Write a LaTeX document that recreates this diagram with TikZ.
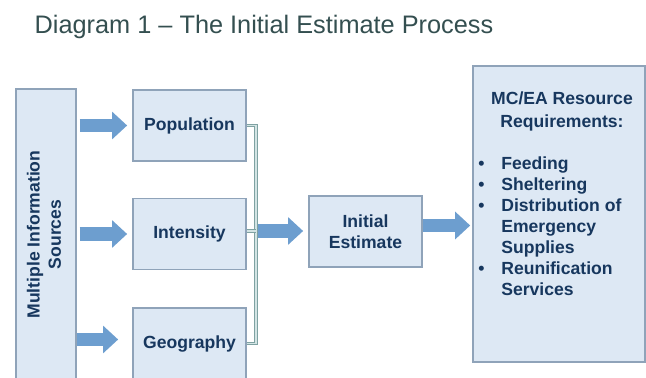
\documentclass[tikz,border=0pt]{standalone}
\usepackage{fontspec}
\setmainfont{Liberation Sans}
\usepackage{tikz}
\usetikzlibrary{positioning, arrows.meta, calc}
\definecolor{boxfill}{HTML}{DDE8F4}
\definecolor{boxline}{HTML}{8FA3B9}
\definecolor{boxtext}{HTML}{17375E}
\definecolor{arrowblue}{HTML}{6D9ECF}
\definecolor{titletext}{HTML}{344F50}
\definecolor{bracketline}{HTML}{7FA2A2}
\definecolor{bracketfill}{HTML}{D3E4E4}

\begin{document}
\begin{tikzpicture}[
			% GLOBAL CFG (one unit = one pixel, y goes down)
			x=0.025cm, y=-0.025cm,
			font=\bfseries\fontsize{12.5}{15}\selectfont,
			% Styles
			box/.style={% For the boxes
				rectangle,
				draw=boxline,
				fill=boxfill,
				line width=1.1pt,
				text=boxtext,
				align=center,
				minimum width=2.825cm,
				minimum height=1.775cm,
				inner sep=2pt,
			},
			title/.style={% For the heading line
				font=\fontsize{18}{22}\selectfont,
				text=titletext,
				anchor=base,
			},
			bigarrow/.style={% Fat blue arrows
				draw=arrowblue,
				line width=9.5pt,
				-{Triangle[length=10.7pt, width=19pt]},
			},
			bracket/.style={% Thin line joining the three factors
				draw=bracketline,
				line width=0.7pt,
				double=bracketfill,
				double distance=1pt,
			},
			]
			\clip (0,0) rectangle (646,377);
			
			% Heading
			\node[title] (head) at (264,33) {Diagram 1 -- The Initial Estimate Process};
			
			% Sources on the left
			\node[box, minimum width=1.5cm, minimum height=7.275cm] (sources) at (46,234.5)
				{\rotatebox{90}{\begin{tabular}{@{}c@{}}Multiple Information\\Sources\end{tabular}}};
			
			% The three factors
			\node[box] (pop) at (189.5,125.5) {Population};
			\node[box] (int) at (189.5,234) {Intensity};
			\node[box] (geo) at (189.5,343.5) {Geography};
			
			% The estimate
			\node[box] (init) at (365.5,231.5) {Initial\\Estimate};
			
			% Requirements box
			\node[box, minimum width=4.3cm, minimum height=7.4cm] (reqs) at (559,214) {};
			\node[text=boxtext, inner sep=0pt, anchor=north] (reqhead) at (562,89)
				{\begin{tabular}{@{}c@{}}MC/EA Resource\\[1.4pt]Requirements:\end{tabular}};
			\node[text=boxtext, inner sep=0pt, anchor=north west] (reqlist) at (478,154)
				{\begin{tabular}{@{}l@{\hspace{12pt}}l@{}}
					\textbullet & Feeding\\
					\textbullet & Sheltering\\
					\textbullet & Distribution of\\
					 & Emergency\\
					 & Supplies\\
					\textbullet & Reunification\\
					 & Services
				\end{tabular}};
			
			% Arrows from the sources
			\draw[bigarrow, shorten <=2.1pt, shorten >=3.6pt] (sources.east |- pop.west) -- (pop.west);
			\draw[bigarrow, shorten <=2.1pt, shorten >=3.6pt] (sources.east |- int.west) -- (int.west);
			\draw[bigarrow, shorten >=10pt] ($(sources.east |- geo.west)+(0,-4)$) -- ($(geo.west)+(0,-4)$);
			
			% Joining line
			\coordinate (join) at (256,231);
			\draw[bracket] (pop.east) -- (pop.east -| join) |- (geo.east);
			\draw[bracket] (int.east |- join) -- (join);
			
			% Arrows to the estimate and on to the requirements
			\draw[bigarrow, shorten <=1.4pt, shorten >=3.6pt] (join) -- (init.west |- join);
			\draw[bigarrow, shorten >=1.4pt] ($(init.east)+(0,-6)$) -- ($(reqs.west |- init.east)+(0,-6)$);
			
		\end{tikzpicture}
\end{document}
